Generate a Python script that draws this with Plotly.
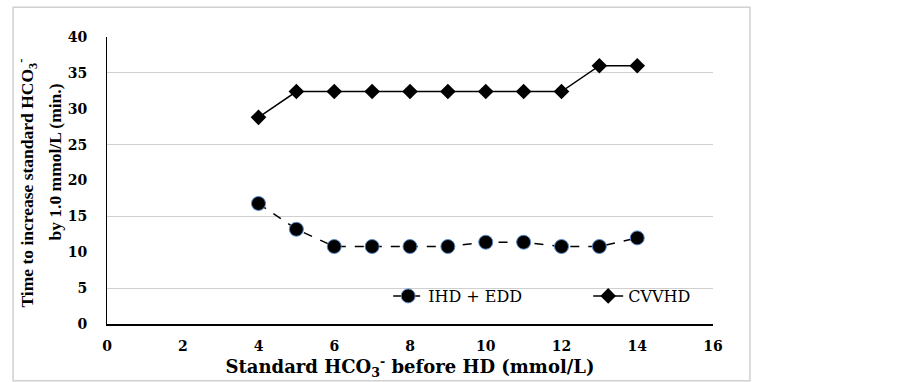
import plotly.graph_objects as go

x_vals = [4, 5, 6, 7, 8, 9, 10, 11, 12, 13, 14]
ihd_edd = [16.8, 13.2, 10.8, 10.8, 10.8, 10.8, 11.4, 11.4, 10.8, 10.8, 12.0]
cvvhd = [28.8, 32.4, 32.4, 32.4, 32.4, 32.4, 32.4, 32.4, 32.4, 36.0, 36.0]
x_ticks = [0, 2, 4, 6, 8, 10, 12, 14, 16]
y_ticks = [0, 5, 10, 15, 20, 25, 30, 35, 40]

serif = "Liberation Serif"
wide = "DejaVu Serif"

fig = go.Figure()
fig.add_trace(go.Scatter(
    x=x_vals, y=ihd_edd, name="IHD + EDD", mode="lines+markers",
    line=dict(color="black", width=1.5, dash="dash"),
    marker=dict(symbol="circle", size=14, color="black",
                line=dict(color="#5b8fd0", width=1)),
))
fig.add_trace(go.Scatter(
    x=x_vals, y=cvvhd, name="CVVHD", mode="lines+markers",
    line=dict(color="black", width=1.5),
    marker=dict(symbol="diamond", size=12, color="black"),
))

fig.update_layout(
    width=922, height=382,
    margin=dict(l=107, r=209, t=37, b=58),
    paper_bgcolor="white", plot_bgcolor="white",
    font=dict(family=serif, color="black"),
    legend=dict(orientation="h", x=0.464, y=0.0976, xanchor="left", yanchor="middle",
                font=dict(family=wide, size=16, color="black"),
                bgcolor="rgba(0,0,0,0)", entrywidth=155, entrywidthmode="pixels",
                tracegroupgap=0),
    xaxis=dict(
        range=[0, 16], tickvals=x_ticks, ticktext=[str(v) for v in x_ticks],
        showgrid=False, zeroline=False, showline=True, linecolor="black", linewidth=2,
        ticks="", ticklabelstandoff=8,
        tickfont=dict(family=wide, size=14, color="black", weight="bold"),
        title=dict(text="<b>Standard HCO<sub>3</sub><sup>-</sup> before HD (mmol/L)</b>",
                   font=dict(family=wide, size=18, color="black"), standoff=4),
    ),
    yaxis=dict(
        range=[0, 40], tickvals=y_ticks, ticktext=[str(v) for v in y_ticks],
        showgrid=False, zeroline=False, showline=True, linecolor="black", linewidth=1,
        ticks="", ticklabelstandoff=16,
        tickfont=dict(family=wide, size=14, color="black", weight="bold"),
        minor=dict(tick0=5, dtick=10, showgrid=True, gridcolor="#d0d0d0", gridwidth=1, ticks=""),
    ),
    showlegend=True,
)

fig.add_annotation(
    text="<b>Time to increase standard HCO<sub>3</sub><sup>-</sup></b>",
    xref="paper", yref="paper", x=0, y=0.5, xanchor="center", yanchor="middle",
    xshift=-80, yshift=-3, textangle=-90, showarrow=False,
    font=dict(family=serif, size=17.5, color="black"),
)
fig.add_annotation(
    text="<b>by 1.0 mmol/L (min.)</b>",
    xref="paper", yref="paper", x=0, y=0.5, xanchor="center", yanchor="middle",
    xshift=-53, yshift=18, textangle=-90, showarrow=False,
    font=dict(family=serif, size=17.5, color="black"),
)

fig.add_shape(type="rect", xref="paper", yref="paper",
              x0=-0.155, x1=1.061, y0=-0.198, y1=1.104,
              line=dict(color="#d0d0d0", width=1.5), fillcolor="rgba(0,0,0,0)", layer="below")

fig.write_html("out.html")
